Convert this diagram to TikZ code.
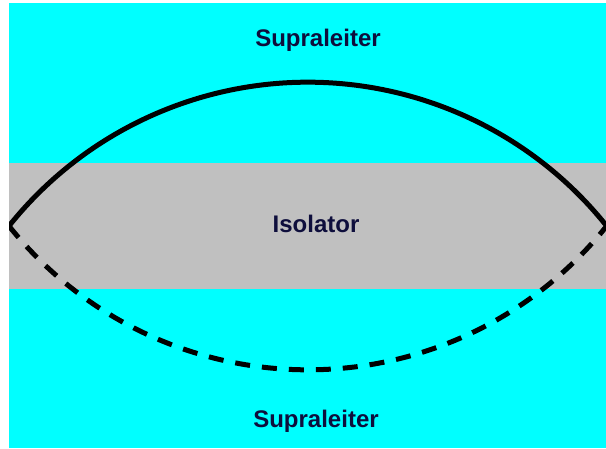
\documentclass[tikz,border=0pt]{standalone}
\usepackage{fontspec}
\setmainfont{Liberation Sans}
\begin{document}
\begin{tikzpicture}[x=1pt,y=1pt,
  lbl/.style={font=\fontsize{24}{28}\selectfont\bfseries, text=navytext, anchor=base, inner sep=0pt},
  wave/.style={line width=5pt, draw=black}]
\definecolor{cyanbg}{RGB}{0,255,255}
\definecolor{grayband}{RGB}{192,192,192}
\definecolor{navytext}{RGB}{14,14,60}
\useasboundingbox (0,0) rectangle (606,448);
\fill[white] (0,0) rectangle (606,448);
\fill[cyanbg] (9,0) rectangle (606,445);
\fill[grayband] (9,159) rectangle (606,285);
\coordinate (L) at (9,222);
\node[lbl] (top) at (318,401) {Supraleiter};
\node[lbl] (iso) at (316,215) {Isolator};
\node[lbl] (bot) at (316,21) {Supraleiter};
\begin{scope}
\clip (9,0) rectangle (606,448);
\draw[wave] (L) arc[start angle=141.4, end angle=38.6, radius=382.4];
\draw[wave, dash pattern=on 15pt off 12pt] (L) arc[start angle=218.6, end angle=321.4, radius=382.4];
\end{scope}
\end{tikzpicture}
\end{document}
